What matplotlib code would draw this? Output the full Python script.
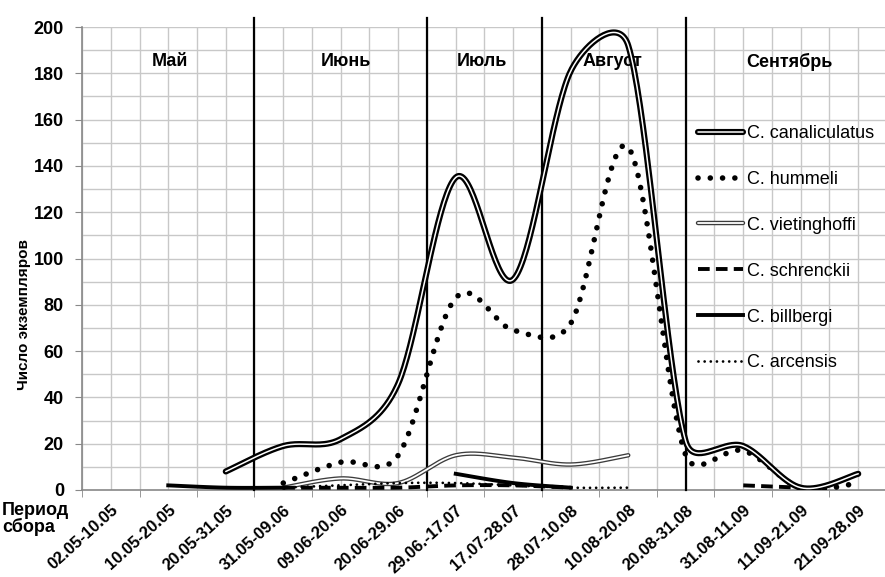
import numpy as np
import matplotlib
matplotlib.use("Agg")
import matplotlib.pyplot as plt
import matplotlib.patheffects as pe

plt.rcParams['font.family'] = ['Liberation Sans', 'DejaVu Sans']

# периоды сбора
periods = ['02.05-10.05', '10.05-20.05', '20.05-31.05', '31.05-09.06',
           '09.06-20.06', '20.06-29.06', '29.06.-17.07', '17.07-28.07',
           '28.07-10.08', '10.08-20.08', '20.08-31.08', '31.08-11.09',
           '11.09-21.09', '21.09-28.09']

nan = np.nan
canaliculatus = [nan, nan, 8, 19, 22, 46, 135, 91, 181, 192, 21, 19, 1, 7]
hummeli = [nan, nan, nan, 3, 12, 15, 83, 69, 72, 148, 15, 17, 1, 3]
vietinghoffi = [nan, nan, nan, 1, 5, 3, 15, 14, 11, 15, nan, nan, nan, nan]
schrenckii = [nan, nan, nan, 1, 1, 1, 2, 2, 1, nan, nan, 2, 1, nan]
billbergi = [nan, 2, 1, 1, nan, nan, 7, 3, 1, nan, nan, nan, nan, nan]
arcensis = [nan, nan, nan, 1, 2, 3, 3, 2, 1, 1, nan, nan, nan, nan]

species = ['C. canaliculatus', 'C. hummeli', 'C. vietinghoffi', 'C. schrenckii',
           'C. billbergi', 'C. arcensis']

months = ['Май', 'Июнь', 'Июль', 'Август', 'Сентябрь']
month_x = [1.03, 4.09, 6.46, 8.72, 11.81]
month_bounds = [2.5, 5.5, 7.5, 10.0]

# масштаб осей в пикселях (для сглаживания как в Excel)
SX, SY = 57.5, 2.315


def smooth_runs(values, n=40):
    """Сглаживание кривой по Безье (как в Excel) для непрерывных участков."""
    y = np.asarray(values, dtype=float)
    ok = ~np.isnan(y)
    runs, i = [], 0
    while i < len(y):
        if ok[i]:
            j = i
            while j + 1 < len(y) and ok[j + 1]:
                j += 1
            runs.append((i, j))
            i = j + 1
        else:
            i += 1
    out = []
    t = np.linspace(0, 1, n)[:, None]
    for a, b in runs:
        pts = np.column_stack([np.arange(a, b + 1) * SX, y[a:b + 1] * SY])
        if len(pts) < 3:
            out.append((pts[:, 0] / SX, pts[:, 1] / SY))
            continue
        segs = []
        for k in range(len(pts) - 1):
            p0 = pts[max(k - 1, 0)]
            p1, p2 = pts[k], pts[k + 1]
            p3 = pts[min(k + 2, len(pts) - 1)]
            d12 = np.hypot(*(p2 - p1))
            d02 = np.hypot(*(p2 - p0))
            d13 = np.hypot(*(p3 - p1))
            f0 = 1 / 6 if d02 / 6 < d12 / 2 else d12 / d02 / 2
            f3 = 1 / 6 if d13 / 6 < d12 / 2 else d12 / d13 / 2
            c1 = p1 + f0 * (p2 - p0)
            c2 = p2 - f3 * (p3 - p1)
            seg = ((1 - t)**3 * p1 + 3 * (1 - t)**2 * t * c1
                   + 3 * (1 - t) * t**2 * c2 + t**3 * p2)
            segs.append(seg if k == 0 else seg[1:])
        c = np.vstack(segs)
        out.append((c[:, 0] / SX, c[:, 1] / SY))
    return out


fig = plt.figure(figsize=(8.85, 5.77), dpi=100)
ax = fig.add_axes([82 / 885, 87 / 577, 805 / 885, 463 / 577])

ax.set_xlim(-0.5, 13.5)
ax.set_ylim(0, 200)

# сетка
ax.set_xticks(np.arange(-0.5, 13.6, 1.0), minor=True)
ax.set_xticks(np.arange(14))
for xv in np.arange(-0.5, 13.6, 0.5):
    ax.axvline(xv, color='#c8c8c8', lw=1.0, zorder=0)
for yv in range(10, 201, 10):
    ax.axhline(yv, color='#c8c8c8', lw=1.0, zorder=0)

ax.set_yticks(range(0, 201, 20))
ax.set_yticklabels([str(v) for v in range(0, 201, 20)],
                   fontsize=13, fontweight='bold')
ax.set_xticklabels(periods, rotation=42, ha='right', rotation_mode='anchor',
                   fontsize=12, fontweight='bold')
ax.tick_params(axis='x', which='major', length=0, pad=9)
ax.tick_params(axis='x', which='minor', length=5, color='#888888')
ax.tick_params(axis='y', length=5, color='#888888', pad=8)
for s in ['top', 'right']:
    ax.spines[s].set_visible(False)
for s in ['left', 'bottom']:
    ax.spines[s].set_color('#888888')
    ax.spines[s].set_linewidth(1.2)

# границы месяцев
for xb in month_bounds:
    ax.plot([xb, xb], [0, 204], color='black', lw=1.6, clip_on=False, zorder=3)
for name, xm in zip(months, month_x):
    ax.text(xm, 185, name, ha='center', va='center', fontsize=13,
            fontweight='bold')

double_black = [pe.Stroke(linewidth=4.4, foreground='black'), pe.Normal()]
double_grey = [pe.Stroke(linewidth=3.2, foreground='#3c3c3c'), pe.Normal()]

handles = []
# C. canaliculatus
for xs, ys in smooth_runs(canaliculatus):
    h, = ax.plot(xs, ys, color='white', lw=1.1, solid_capstyle='round',
                 path_effects=double_black, zorder=6)
handles.append(h)
# C. hummeli
for xs, ys in smooth_runs(hummeli):
    h, = ax.plot(xs, ys, color='black', lw=4.0, linestyle=(0, (0.01, 2.2)),
                 dash_capstyle='round', zorder=5)
handles.append(h)
# C. vietinghoffi
for xs, ys in smooth_runs(vietinghoffi):
    h, = ax.plot(xs, ys, color='white', lw=1.3, solid_capstyle='round',
                 path_effects=double_grey, zorder=4)
handles.append(h)
# C. schrenckii
for xs, ys in smooth_runs(schrenckii):
    h, = ax.plot(xs, ys, color='black', lw=2.8, linestyle=(0, (3, 1.6)), zorder=4)
handles.append(h)
# C. billbergi
for xs, ys in smooth_runs(billbergi):
    h, = ax.plot(xs, ys, color='black', lw=2.8, zorder=4)
handles.append(h)
# C. arcensis
for xs, ys in smooth_runs(arcensis):
    h, = ax.plot(xs, ys, color='black', lw=2.0, linestyle=(0, (0.01, 2.2)),
                 dash_capstyle='round', zorder=4)
handles.append(h)

ax.legend(handles, species, loc='upper left',
          bbox_to_anchor=((698 - 82) / 805, (490 - 125) / 463),
          frameon=False, fontsize=13, handlelength=2.5, handletextpad=0.2,
          labelspacing=1.6, borderaxespad=0, borderpad=0)

fig.text(24 / 885, 1 - 315 / 577, 'Число экземпляров', rotation=90,
         ha='center', va='center', fontsize=11, fontweight='bold')
fig.text(2 / 885, 1 - 519 / 577, 'Период\nсбора', ha='left', va='center',
         fontsize=13, fontweight='bold', linespacing=0.95)

fig.savefig('out.png', dpi=100)
